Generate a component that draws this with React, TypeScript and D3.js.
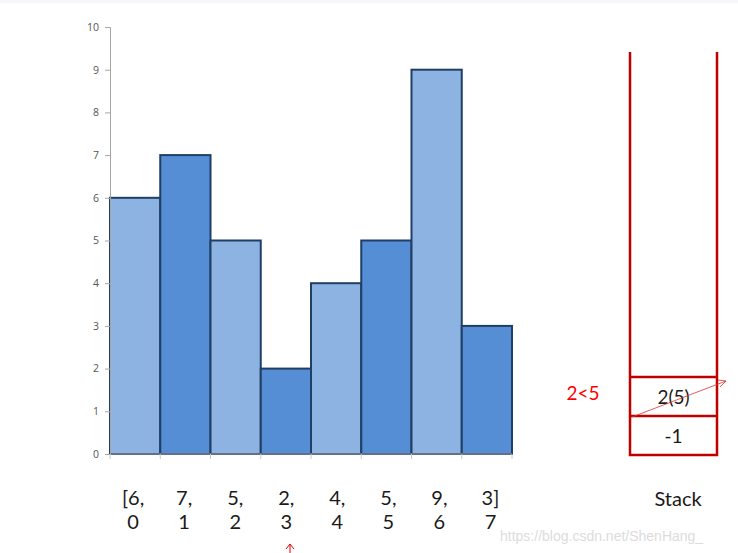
import { useEffect, useRef } from "react";
import * as d3 from "d3";

const heights = [6, 7, 5, 2, 4, 5, 9, 3];
const indices = [0, 1, 2, 3, 4, 5, 6, 7];
const valueLabels = ["[6,", "7,", "5,", "2,", "4,", "5,", "9,", "3]"];
const yTicks = [0, 1, 2, 3, 4, 5, 6, 7, 8, 9, 10];
const stackItems = ["-1", "2(5)"];

export default function App() {
  const svgRef = useRef<SVGSVGElement | null>(null);

  useEffect(() => {
    const svg = d3.select(svgRef.current);
    svg.selectAll("*").remove(); // clean before drawing

    const width = 738;
    const height = 553;
    const margin = { left: 110, right: 512, top: 27, bottom: 454 };
    const font = "Lato, 'Open Sans', sans-serif";

    svg.attr("width", width).attr("height", height);

    svg.append("rect").attr("width", width).attr("height", height).attr("fill", "#fff");
    svg.append("rect").attr("width", width).attr("height", 3).attr("fill", "#f5f7fa");

    const x = d3
      .scaleBand<number>()
      .domain(indices)
      .range([margin.left, margin.right])
      .padding(0);

    const y = d3
      .scaleLinear()
      .domain([0, 10])
      .range([margin.bottom, margin.top]);

    // bars
    svg
      .append("g")
      .selectAll("rect")
      .data(heights)
      .join("rect")
      .attr("x", (_, i) => x(i)!)
      .attr("y", (d) => y(d))
      .attr("width", x.bandwidth())
      .attr("height", (d) => y(0) - y(d))
      .attr("fill", (_, i) => (i % 2 === 0 ? "#8db3e2" : "#558ed5"))
      .attr("stroke", "#1f3f66")
      .attr("stroke-width", 2);

    // y axis
    const yAxis = svg
      .append("g")
      .attr("transform", `translate(${margin.left},0)`)
      .style("color", "#555555")
      .call(d3.axisLeft(y).tickValues(yTicks).tickSize(5).tickPadding(6));
    yAxis.select(".domain").attr("stroke", "#a6a6a6");
    yAxis.selectAll(".tick line").attr("stroke", "#a6a6a6");
    yAxis
      .selectAll(".tick text")
      .style("fill", "#555555")
      .style("font-family", "'Open Sans', sans-serif")
      .style("font-size", "10.5px");

    // x axis line and ticks at bar boundaries
    const xAxis = svg.append("g");
    xAxis
      .append("line")
      .attr("x1", margin.left)
      .attr("x2", margin.right)
      .attr("y1", y(0))
      .attr("y2", y(0))
      .attr("stroke", "#a6a6a6");
    xAxis
      .selectAll("line.tk")
      .data([...indices, 8])
      .join("line")
      .attr("class", "tk")
      .attr("x1", (d) => margin.left + d * x.bandwidth())
      .attr("x2", (d) => margin.left + d * x.bandwidth())
      .attr("y1", y(0))
      .attr("y2", y(0) + 5)
      .attr("stroke", "#c8c8c8");

    // array labels under bars
    const labels = svg.append("g").style("font-family", font).attr("fill", "#1a1a1a");
    labels
      .selectAll("text.val")
      .data(valueLabels)
      .join("text")
      .attr("class", "val")
      .attr("x", (_, i) => x(i)! + x.bandwidth() / 2 + i * 0.8 - 2)
      .attr("y", 505)
      .attr("text-anchor", "middle")
      .style("font-size", "20px")
      .text((d) => d);
    labels
      .selectAll("text.idx")
      .data(indices)
      .join("text")
      .attr("class", "idx")
      .attr("x", (d) => x(d)! + x.bandwidth() / 2 + d * 0.8 - 2)
      .attr("y", 529)
      .attr("text-anchor", "middle")
      .style("font-size", "20px")
      .text((d) => d);

    // red pointer arrow under index 3
    const ax = 290;
    svg
      .append("path")
      .attr("d", `M${ax},553 L${ax},544 M${ax - 4},549 L${ax},544 L${ax + 4},549`)
      .attr("fill", "none")
      .attr("stroke", "#e00000")
      .attr("stroke-width", 1);

    // stack
    const red = "#c00000";
    const sx0 = 630;
    const sx1 = 717;
    const sTop = 52;
    const sBottom = 455;
    const cell = 39;
    const stack = svg.append("g");
    stack
      .append("path")
      .attr("d", `M${sx0},${sTop} L${sx0},${sBottom} L${sx1},${sBottom} L${sx1},${sTop}`)
      .attr("fill", "none")
      .attr("stroke", red)
      .attr("stroke-width", 2.5);
    stack
      .selectAll("line.cell")
      .data(stackItems)
      .join("line")
      .attr("class", "cell")
      .attr("x1", sx0)
      .attr("x2", sx1)
      .attr("y1", (_, i) => sBottom - cell * (i + 1))
      .attr("y2", (_, i) => sBottom - cell * (i + 1))
      .attr("stroke", red)
      .attr("stroke-width", 2.5);
    stack
      .selectAll("text.item")
      .data(stackItems)
      .join("text")
      .attr("class", "item")
      .attr("x", (sx0 + sx1) / 2)
      .attr("y", (_, i) => sBottom - cell * i - cell / 2 + 7)
      .attr("text-anchor", "middle")
      .attr("fill", "#1a1a1a")
      .style("font-family", font)
      .style("font-size", "19px")
      .text((d) => d);

    // thin red arrow across the "2(5)" cell
    const a0 = [sx0 + 2, sBottom - cell + 1];
    const a1 = [726, 381];
    stack
      .append("line")
      .attr("x1", a0[0])
      .attr("y1", a0[1])
      .attr("x2", a1[0])
      .attr("y2", a1[1])
      .attr("stroke", "#e03030")
      .attr("stroke-width", 0.8);
    stack
      .append("path")
      .attr("d", `M${a1[0] - 8},${a1[1] - 1} L${a1[0]},${a1[1]} L${a1[0] - 6},${a1[1] + 6}`)
      .attr("fill", "none")
      .attr("stroke", "#e03030")
      .attr("stroke-width", 0.8);

    svg
      .append("text")
      .attr("x", 583)
      .attr("y", 400)
      .attr("text-anchor", "middle")
      .attr("fill", "#ff0000")
      .style("font-family", font)
      .style("font-size", "19px")
      .text("2<5");

    svg
      .append("text")
      .attr("x", 678)
      .attr("y", 506)
      .attr("text-anchor", "middle")
      .attr("fill", "#1a1a1a")
      .style("font-family", font)
      .style("font-size", "20px")
      .text("Stack");

    // watermark
    svg
      .append("text")
      .attr("x", 500)
      .attr("y", 541)
      .attr("fill", "#dcdcdc")
      .style("font-family", "'Liberation Sans', Arial, sans-serif")
      .style("font-size", "14px")
      .text("https://blog.csdn.net/ShenHang_");
  }, []);

  return (
    <svg
      ref={svgRef}
      style={{ position: "absolute", left: 0, top: 0, display: "block" }}
    ></svg>
  );
}
